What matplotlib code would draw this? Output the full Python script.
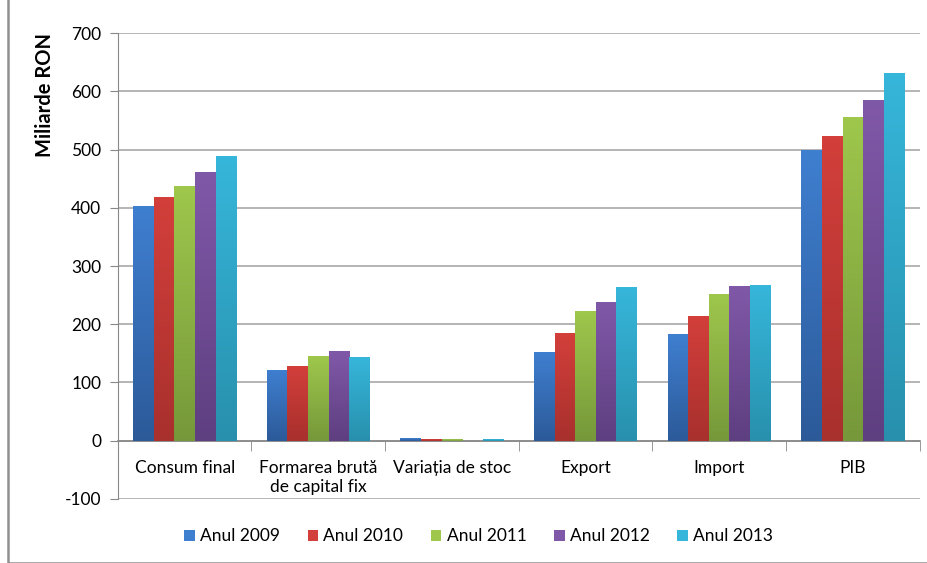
import numpy as np
import matplotlib
matplotlib.use('Agg')
import matplotlib.pyplot as plt
from matplotlib.colors import LinearSegmentedColormap
from matplotlib.patches import Rectangle

plt.rcParams['font.family'] = ['Lato', 'DejaVu Sans']
plt.rcParams['axes.unicode_minus'] = False

categories = ['Consum final', 'Formarea brută\nde capital fix', 'Variația de stoc', 'Export', 'Import', 'PIB']
years = ['Anul 2009', 'Anul 2010', 'Anul 2011', 'Anul 2012', 'Anul 2013']
v2009 = [403, 122, 5, 153, 183, 499]
v2010 = [419, 129, 3, 185, 214, 523]
v2011 = [437, 146, 3, 223, 252, 556]
v2012 = [461, 154, 0, 238, 266, 585]
v2013 = [489, 144, 2, 264, 268, 631]
series = [v2009, v2010, v2011, v2012, v2013]

# culori (sus deschis, jos inchis)
top_colors = ['#3f7fd0', '#d33f3b', '#9ec74c', '#8058a8', '#36b6da']
bot_colors = ['#2c5a99', '#a8302d', '#76983a', '#5e3f80', '#2890ad']

fig = plt.figure(figsize=(9.28, 5.63), dpi=100)
ax = fig.add_axes([0.127, 0.114, 0.864, 0.827])

x = np.arange(len(categories))
w = 0.154
for i, vals in enumerate(series):
    off = (i - 2) * w
    bars = ax.bar(x + off, vals, w, color=top_colors[i], label=years[i], zorder=3)
    cmap = LinearSegmentedColormap.from_list('g', [bot_colors[i], top_colors[i]])
    grad = np.linspace(0, 1, 100).reshape(-1, 1)
    for b in bars:
        h = b.get_height()
        if h <= 0:
            continue
        im = ax.imshow(grad, cmap=cmap, aspect='auto', origin='lower',
                       extent=[b.get_x(), b.get_x() + b.get_width(), 0, h], zorder=3.5)
        im.set_clip_path(b)

ax.set_xlim(-0.5, len(categories) - 0.5)
ax.set_ylim(-100, 700)
ax.set_yticks(range(-100, 701, 100))
ax.yaxis.grid(True, color='#a8a8a8', linewidth=1.2, zorder=0)
ax.tick_params(axis='y', labelsize=12.5, length=6, color='#888888', direction='out', pad=6)
for s in ['top', 'right']:
    ax.spines[s].set_visible(False)
ax.spines['left'].set_color('#888888')
ax.spines['bottom'].set_position(('data', 0))
ax.spines['bottom'].set_color('#888888')
ax.spines['bottom'].set_linewidth(1.2)
ax.set_xticks(x)
ax.set_xticklabels(categories, fontsize=12.5)
ax.tick_params(axis='x', length=0, pad=14)
ax.set_xticks(np.arange(-0.5, len(categories)), minor=True)
ax.tick_params(axis='x', which='minor', length=7, color='#888888')

ax.set_ylabel('Miliarde RON', fontsize=14.5, fontweight='bold')
ax.yaxis.set_label_coords(-0.078, 0.867)

ax.legend(loc='upper center', bbox_to_anchor=(0.45, -0.03), ncol=5, frameon=False,
          fontsize=12.5, handlelength=0.6, handleheight=0.6, columnspacing=1.6, handletextpad=0.3)

fig.patches.append(Rectangle((0.009, 0.0), 1.2, 1.2, transform=fig.transFigure,
                             fill=False, edgecolor='#909090', linewidth=1.8))

fig.savefig('out.png', dpi=100)
